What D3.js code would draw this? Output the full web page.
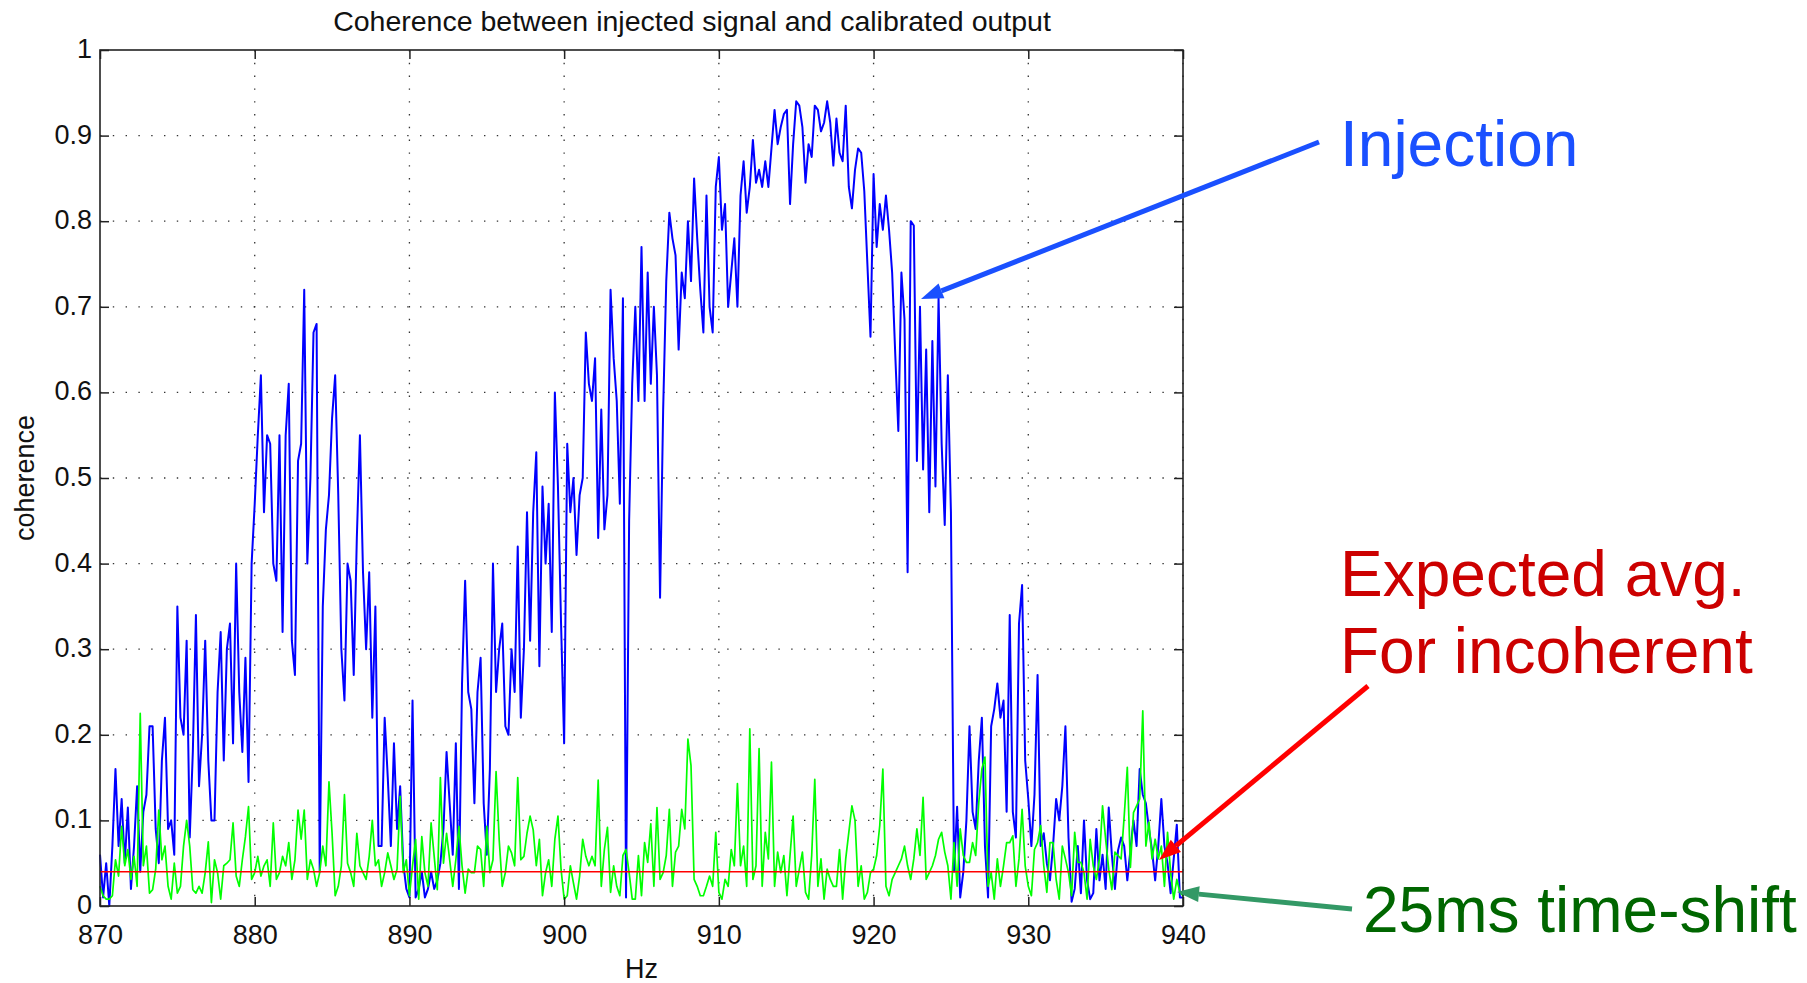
<!DOCTYPE html>
<html>
<head>
<meta charset="UTF-8" />
<title>Coherence between injected signal and calibrated output</title>
<script src="https://cdn.jsdelivr.net/npm/d3@7"></script>
<style>
  body { margin: 0; background: #fff; }
  svg { display: block; font-family: "Liberation Sans", Arial, Helvetica, sans-serif; }
</style>
</head>
<body>
<svg id="chart"></svg>
<script>
// both traces are sampled on the same frequency grid (Hz)
const freqStart = 870;
const freqStep = 0.2;

// coherence of the injection (blue), one row = 2 Hz
const injection = [
  0.06,0.01,0.05,0.00,0.07,0.16,0.07,0.125,0.05,0.115,
  0.02,0.07,0.14,0.04,0.11,0.13,0.21,0.21,0.09,0.05,
  0.17,0.22,0.09,0.10,0.06,0.35,0.22,0.20,0.31,0.08,
  0.18,0.34,0.14,0.20,0.31,0.17,0.10,0.10,0.25,0.32,
  0.17,0.30,0.33,0.19,0.40,0.25,0.18,0.29,0.145,0.40,
  0.47,0.55,0.62,0.46,0.55,0.54,0.40,0.38,0.55,0.32,
  0.55,0.61,0.31,0.27,0.52,0.54,0.72,0.40,0.50,0.67,
  0.68,0.04,0.35,0.44,0.48,0.57,0.62,0.48,0.30,0.24,
  0.40,0.38,0.27,0.43,0.55,0.39,0.30,0.39,0.22,0.35,
  0.07,0.07,0.22,0.15,0.07,0.19,0.09,0.14,0.05,0.02,
  0.01,0.24,0.01,0.02,0.04,0.01,0.02,0.04,0.02,0.03,
  0.05,0.09,0.18,0.12,0.06,0.19,0.02,0.26,0.38,0.25,
  0.23,0.12,0.25,0.29,0.12,0.06,0.16,0.40,0.25,0.30,
  0.33,0.21,0.20,0.30,0.25,0.42,0.22,0.30,0.46,0.31,
  0.46,0.53,0.28,0.49,0.40,0.47,0.32,0.60,0.49,0.33,
  0.19,0.54,0.46,0.50,0.41,0.48,0.50,0.67,0.61,0.59,
  0.64,0.43,0.58,0.44,0.48,0.72,0.64,0.59,0.47,0.71,
  0.01,0.45,0.61,0.70,0.59,0.77,0.59,0.74,0.61,0.70,
  0.62,0.36,0.58,0.73,0.81,0.78,0.76,0.65,0.74,0.71,
  0.80,0.73,0.85,0.78,0.72,0.67,0.83,0.70,0.67,0.84,
  0.875,0.79,0.82,0.70,0.74,0.78,0.70,0.83,0.87,0.81,
  0.84,0.895,0.845,0.86,0.84,0.87,0.84,0.885,0.93,0.89,
  0.91,0.925,0.93,0.82,0.89,0.94,0.935,0.91,0.845,0.89,
  0.875,0.935,0.93,0.905,0.915,0.94,0.915,0.865,0.92,0.88,
  0.87,0.935,0.84,0.815,0.86,0.885,0.88,0.835,0.75,0.665,
  0.855,0.77,0.82,0.79,0.83,0.79,0.74,0.645,0.555,0.74,
  0.685,0.39,0.80,0.795,0.52,0.70,0.51,0.65,0.46,0.66,
  0.49,0.71,0.54,0.445,0.62,0.46,0.04,0.116,0.01,0.04,
  0.10,0.21,0.11,0.09,0.17,0.22,0.07,0.01,0.21,0.23,
  0.26,0.22,0.24,0.11,0.34,0.11,0.08,0.33,0.375,0.17,
  0.125,0.07,0.13,0.27,0.07,0.085,0.05,0.03,0.07,0.125,
  0.10,0.14,0.21,0.08,0.005,0.02,0.07,0.015,0.10,0.03,
  0.008,0.015,0.09,0.03,0.06,0.02,0.115,0.06,0.02,0.065,
  0.08,0.07,0.03,0.065,0.10,0.07,0.16,0.13,0.12,0.09,
  0.065,0.03,0.07,0.125,0.07,0.05,0.015,0.055,0.095,0.01,
  0.01
];

// coherence with a 25ms time-shift (green)
const timeShift = [
  0.023,0.012,0.008,0.008,0.012,0.054,0.035,0.093,0.047,0.066,
  0.031,0.058,0.023,0.225,0.047,0.07,0.015,0.019,0.043,0.112,
  0.054,0.07,0.023,0.008,0.05,0.015,0.023,0.07,0.10,0.07,
  0.019,0.015,0.023,0.015,0.039,0.075,0.004,0.054,0.039,0.008,
  0.047,0.05,0.054,0.097,0.035,0.023,0.054,0.081,0.116,0.031,
  0.039,0.058,0.035,0.047,0.054,0.023,0.097,0.031,0.039,0.058,
  0.047,0.074,0.031,0.054,0.112,0.078,0.112,0.031,0.054,0.043,
  0.023,0.039,0.07,0.047,0.145,0.085,0.012,0.023,0.047,0.13,
  0.05,0.039,0.023,0.085,0.047,0.039,0.031,0.058,0.10,0.047,
  0.054,0.023,0.039,0.062,0.047,0.031,0.043,0.128,0.039,0.054,
  0.012,0.047,0.078,0.008,0.081,0.039,0.023,0.097,0.058,0.019,
  0.15,0.05,0.085,0.054,0.023,0.054,0.093,0.047,0.015,0.043,
  0.039,0.039,0.07,0.066,0.023,0.093,0.039,0.054,0.157,0.078,
  0.023,0.039,0.07,0.062,0.047,0.15,0.054,0.058,0.085,0.105,
  0.089,0.047,0.078,0.012,0.039,0.054,0.023,0.078,0.105,0.043,
  0.008,0.012,0.047,0.027,0.008,0.035,0.078,0.058,0.047,0.058,
  0.047,0.147,0.023,0.066,0.092,0.016,0.047,0.023,0.012,0.059,
  0.066,0.039,0.008,0.008,0.059,0.012,0.074,0.051,0.096,0.023,
  0.115,0.031,0.039,0.059,0.113,0.023,0.063,0.07,0.113,0.09,
  0.195,0.164,0.031,0.023,0.012,0.012,0.023,0.035,0.023,0.086,
  0.016,0.008,0.031,0.023,0.066,0.047,0.143,0.047,0.07,0.023,
  0.207,0.031,0.047,0.184,0.023,0.086,0.055,0.168,0.023,0.063,
  0.039,0.059,0.012,0.059,0.105,0.023,0.043,0.063,0.016,0.008,
  0.059,0.148,0.023,0.055,0.008,0.043,0.031,0.023,0.023,0.066,
  0.008,0.055,0.086,0.117,0.10,0.023,0.047,0.008,0.016,0.039,
  0.043,0.059,0.094,0.16,0.023,0.012,0.031,0.039,0.047,0.055,
  0.07,0.047,0.031,0.055,0.09,0.059,0.127,0.031,0.039,0.047,
  0.059,0.078,0.086,0.063,0.047,0.008,0.074,0.023,0.09,0.059,
  0.051,0.051,0.074,0.059,0.121,0.16,0.174,0.023,0.039,0.008,
  0.055,0.023,0.047,0.074,0.074,0.082,0.023,0.055,0.113,0.047,
  0.023,0.012,0.066,0.074,0.094,0.047,0.016,0.074,0.074,0.031,
  0.008,0.07,0.055,0.039,0.012,0.086,0.051,0.051,0.039,0.008,
  0.078,0.047,0.031,0.055,0.117,0.078,0.043,0.019,0.063,0.059,
  0.055,0.105,0.162,0.045,0.109,0.117,0.125,0.228,0.07,0.098,
  0.055,0.078,0.055,0.07,0.023,0.086,0.039,0.008,0.031,0.016,
  0.012
];

// expected average coherence for incoherent data (red)
const expectedAvg = 0.04;

const xTicks = [870, 880, 890, 900, 910, 920, 930, 940];
const yTicks = [0, 0.1, 0.2, 0.3, 0.4, 0.5, 0.6, 0.7, 0.8, 0.9, 1];
const yTickLabels = ["0", "0.1", "0.2", "0.3", "0.4", "0.5", "0.6", "0.7", "0.8", "0.9", "1"];

const width = 1807, height = 983;
const plotLeft = 100, plotRight = 1183, plotTop = 50, plotBottom = 906;

const svg = d3.select("#chart").attr("width", width).attr("height", height);
svg.append("rect").attr("width", width).attr("height", height).attr("fill", "#fff");

const x = d3.scaleLinear().domain([870, 940]).range([plotLeft, plotRight]);
const y = d3.scaleLinear().domain([0, 1]).range([plotBottom, plotTop]);

// dotted grid
const grid = svg.append("g")
    .attr("stroke", "#333")
    .attr("stroke-width", 1.3)
    .attr("stroke-dasharray", "1.4,11.4");
grid.selectAll(".gx").data(xTicks.slice(1)).enter().append("line")
    .attr("x1", d => x(d)).attr("x2", d => x(d))
    .attr("y1", plotTop).attr("y2", plotBottom);
grid.selectAll(".gy").data(yTicks.slice(1, -1)).enter().append("line")
    .attr("x1", plotLeft).attr("x2", plotRight)
    .attr("y1", d => y(d)).attr("y2", d => y(d));

// the data lines
const points = arr => arr.map((v, i) => [freqStart + i * freqStep, v]);
const line = d3.line().x(d => x(d[0])).y(d => y(d[1]));

svg.append("path")
    .attr("d", line(points(injection)))
    .attr("fill", "none")
    .attr("stroke", "#0000ff")
    .attr("stroke-width", 2)
    .attr("stroke-linejoin", "round");

svg.append("path")
    .attr("d", line(points(timeShift)))
    .attr("fill", "none")
    .attr("stroke", "#00ff00")
    .attr("stroke-width", 1.7)
    .attr("stroke-linejoin", "round");

svg.append("path")
    .attr("d", line([[870, expectedAvg], [940, expectedAvg]]))
    .attr("fill", "none")
    .attr("stroke", "#ff0000")
    .attr("stroke-width", 1.7);

// axes with inward ticks on all four sides
const tickLen = 9;
const fmtY = d => yTickLabels[yTicks.indexOf(d)];

const gx = svg.append("g").attr("transform", `translate(0,${plotBottom})`)
    .call(d3.axisBottom(x).tickValues(xTicks).tickSizeInner(-tickLen).tickSizeOuter(0).tickPadding(19).tickFormat(d3.format("d")));
const gxt = svg.append("g").attr("transform", `translate(0,${plotTop})`)
    .call(d3.axisTop(x).tickValues(xTicks).tickSizeInner(-tickLen).tickSizeOuter(0).tickFormat(""));
const gy = svg.append("g").attr("transform", `translate(${plotLeft},0)`)
    .call(d3.axisLeft(y).tickValues(yTicks).tickSizeInner(-tickLen).tickSizeOuter(0).tickPadding(8).tickFormat(fmtY));
const gyr = svg.append("g").attr("transform", `translate(${plotRight},0)`)
    .call(d3.axisRight(y).tickValues(yTicks).tickSizeInner(-tickLen).tickSizeOuter(0).tickFormat(""));

gy.selectAll("text").attr("dy", "0.28em");

[gx, gxt, gy, gyr].forEach(g => {
  g.select(".domain").remove();
  g.selectAll(".tick line").attr("stroke", "#222").attr("stroke-width", 1.5);
  g.selectAll("text").attr("fill", "#111").style("font-size", "27px")
      .style("font-family", "'Liberation Sans', Arial, Helvetica, sans-serif");
});

svg.append("rect")
    .attr("x", plotLeft).attr("y", plotTop)
    .attr("width", plotRight - plotLeft).attr("height", plotBottom - plotTop)
    .attr("fill", "none").attr("stroke", "#222").attr("stroke-width", 1.6);

// titles
svg.append("text")
    .attr("x", 692).attr("y", 31)
    .attr("text-anchor", "middle")
    .style("font-size", "28.5px").attr("fill", "#111")
    .text("Coherence between injected signal and calibrated output");

svg.append("text")
    .attr("x", (plotLeft + plotRight) / 2).attr("y", 978)
    .attr("text-anchor", "middle")
    .style("font-size", "27px").attr("fill", "#111")
    .text("Hz");

svg.append("text")
    .attr("transform", `translate(34,${(plotTop + plotBottom) / 2}) rotate(-90)`)
    .attr("text-anchor", "middle")
    .style("font-size", "27px").attr("fill", "#111")
    .text("coherence");

// annotation arrows
function arrow(x1, y1, x2, y2, color) {
  const len = 22, half = 8;
  const a = Math.atan2(y2 - y1, x2 - x1);
  const bx = x2 - len * Math.cos(a), by = y2 - len * Math.sin(a);
  svg.append("line")
      .attr("x1", x1).attr("y1", y1).attr("x2", bx).attr("y2", by)
      .attr("stroke", color).attr("stroke-width", 5);
  const px = -Math.sin(a) * half, py = Math.cos(a) * half;
  svg.append("path")
      .attr("d", `M${x2},${y2}L${bx + px},${by + py}L${bx - px},${by - py}Z`)
      .attr("fill", color);
}

arrow(1319, 142, 921, 299, "#1a50ff");
arrow(1368, 686, 1159, 860, "#ff0000");
arrow(1352, 909, 1177, 892, "#339966");

const notes = [
  { text: "Injection", x: 1340, y: 166, color: "#1a50ff" },
  { text: "Expected avg.", x: 1340, y: 596, color: "#cc0000" },
  { text: "For incoherent", x: 1340, y: 673, color: "#cc0000" },
  { text: "25ms time-shift", x: 1363, y: 932, color: "#006600" }
];
svg.selectAll(".note").data(notes).enter().append("text")
    .attr("class", "note")
    .attr("x", d => d.x).attr("y", d => d.y)
    .attr("fill", d => d.color)
    .style("font-size", "64px")
    .text(d => d.text);
</script>
</body>
</html>
